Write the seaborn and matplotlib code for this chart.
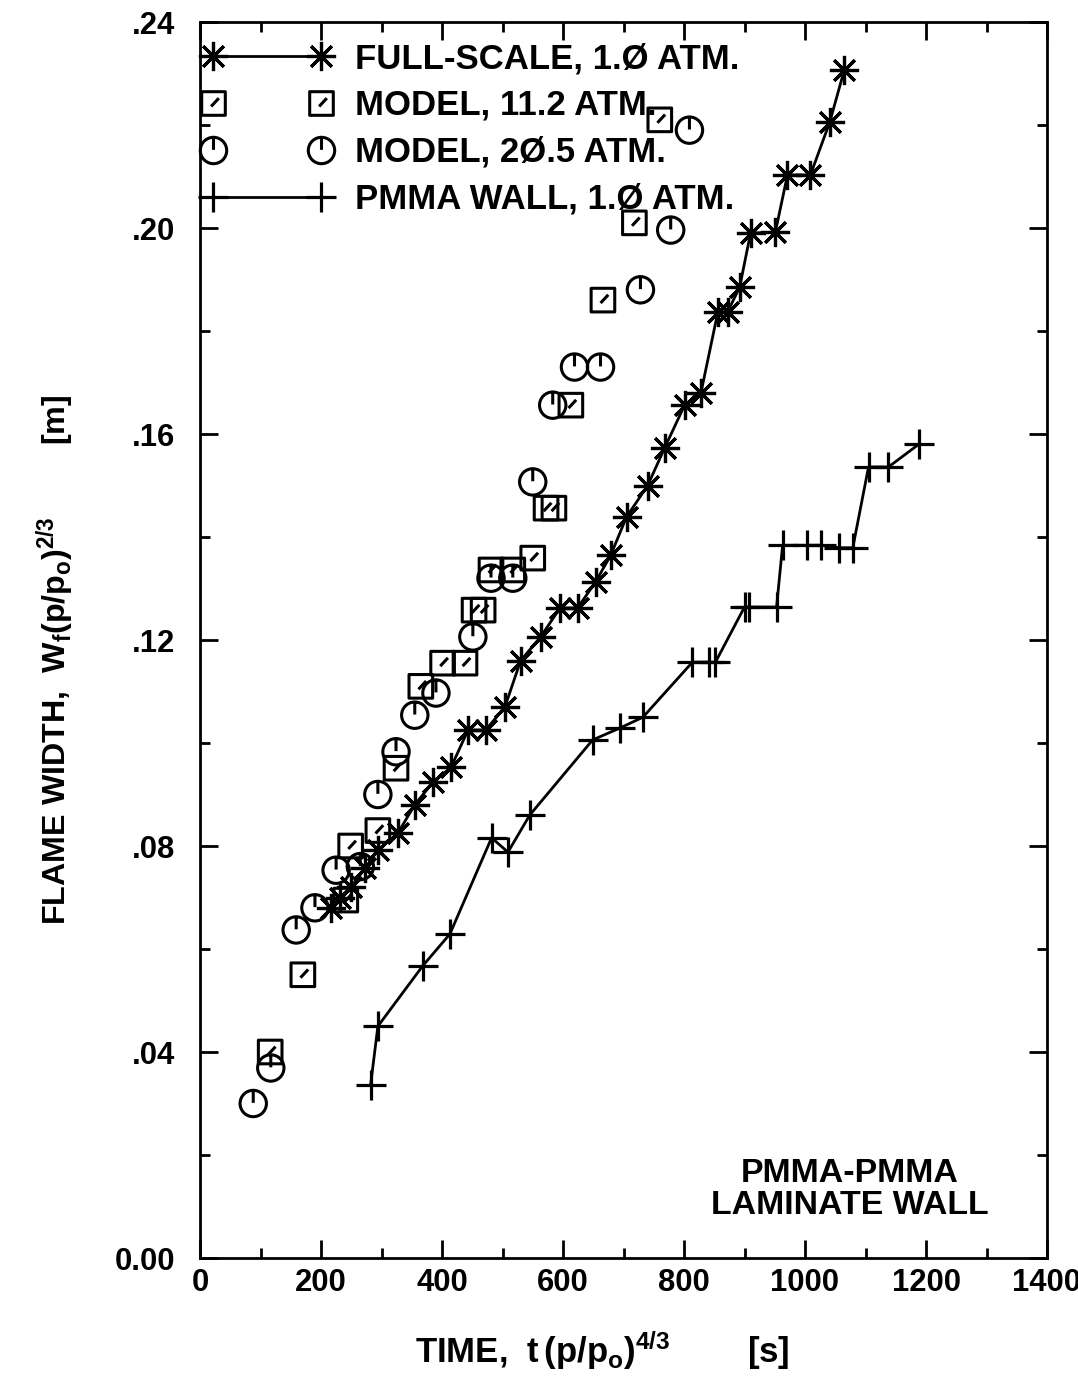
import numpy as np
import pandas as pd
import matplotlib
matplotlib.use("Agg")
import matplotlib.pyplot as plt
import seaborn as sns
from matplotlib import font_manager as fm
from matplotlib.path import Path
from matplotlib.lines import Line2D
from matplotlib.ticker import FixedLocator, MultipleLocator, FuncFormatter

# ---------------- data ----------------
full_t = [216, 231, 249, 273, 294, 327, 355, 385, 415, 443, 472, 504, 530, 563, 595, 624,
          654, 679, 705, 740, 768, 801, 828, 856, 872, 892, 910, 951, 971, 1009, 1041, 1065]
full_w = [.068, .070, .072, .0757, .0792, .0825, .088, .0924, .0953, .1025, .1025, .107, .116,
          .1206, .1262, .1262, .1313, .1365, .1439, .150, .1573, .1656, .168, .1837, .1837,
          .1885, .199, .1992, .2103, .2103, .2206, .2307]

m112_t = [116, 170, 241, 249, 294, 324, 365, 401, 438, 453, 468, 481, 517, 550, 572, 585,
          613, 666, 718, 760]
m112_w = [.040, .055, .0695, .080, .083, .0951, .111, .1155, .1155, .1258, .1258, .1336,
          .1336, .1359, .1456, .1456, .1656, .186, .201, .221]

m205_t = [88, 117, 159, 190, 225, 265, 294, 324, 355, 390, 451, 481, 517, 550, 583, 619,
          662, 728, 778, 809]
m205_w = [.030, .0369, .0637, .068, .0753, .076, .090, .0983, .1054, .1097, .1206, .132,
          .132, .1507, .1656, .173, .173, .188, .1996, .219]

pmma_t = [282, 294, 368, 413, 482, 509, 545, 649, 694, 732, 814, 842, 852, 900, 908, 953,
          963, 1004, 1027, 1057, 1079, 1105, 1138, 1188]
pmma_w = [.0336, .045, .0567, .0629, .0816, .0788, .086, .1006, .1029, .105, .1157, .1157,
          .1157, .1264, .1264, .1264, .1384, .1384, .1384, .1379, .1379, .1536, .1536, .158]

labels = ["FULL-SCALE, 1.Ø ATM.", "MODEL, 11.2 ATM.", "MODEL, 2Ø.5 ATM.",
          "PMMA WALL, 1.Ø ATM."]
x_ticks = [0, 200, 400, 600, 800, 1000, 1200, 1400]
y_ticks = [0.0, 0.04, 0.08, 0.12, 0.16, 0.20, 0.24]
note = "PMMA-PMMA\nLAMINATE WALL"
xlab = r"TIME,  $t\,(p/p_o)^{4/3}$        [s]"
ylab = r"FLAME WIDTH,  $W_f(p/p_o)^{2/3}$        [m]"

# ---------------- style ----------------
sns.set_theme(style="ticks")
avail = {f.name for f in fm.fontManager.ttflist}
FAM = None
for cand in ["Liberation Sans Narrow", "Liberation Sans", "DejaVu Sans"]:
    if cand in avail:
        FAM = cand
        break
plt.rcParams['font.family'] = [FAM, 'DejaVu Sans']
plt.rcParams['font.weight'] = 'bold'
plt.rcParams['axes.labelweight'] = 'bold'
plt.rcParams['text.color'] = 'black'
plt.rcParams['axes.labelcolor'] = 'black'
plt.rcParams['xtick.color'] = 'black'
plt.rcParams['ytick.color'] = 'black'
plt.rcParams['mathtext.fontset'] = 'custom'
plt.rcParams['mathtext.rm'] = FAM + ':bold'
plt.rcParams['mathtext.it'] = FAM + ':bold'
plt.rcParams['mathtext.bf'] = FAM + ':bold'

# custom markers
sq_tick = Path([(-1, -1), (1, -1), (1, 1), (-1, 1), (-1, -1), (-0.2, -0.25), (0.45, 0.45)],
               [Path.MOVETO, Path.LINETO, Path.LINETO, Path.LINETO, Path.CLOSEPOLY,
                Path.MOVETO, Path.LINETO])
circ_tick = Path.make_compound_path(Path.unit_circle(),
                                    Path([(0, 1), (0, 0.05)], [Path.MOVETO, Path.LINETO]))
star = (8, 2, 0)

fig = plt.figure(figsize=(10.78, 13.90), dpi=100)
ax = fig.add_axes([200 / 1078, 1 - 1258 / 1390, 847 / 1078, 1236 / 1390])
renderer = fig.canvas.get_renderer()


def fit(s, target_px, size=20.0, **kw):
    t = fig.text(0, 0, s, fontsize=size, **kw)
    w = t.get_window_extent(renderer).width
    t.remove()
    return size * target_px / w


tick_fs = fit("200", 52)
leg_fs = fit(labels[0], 385)
note_fs = fit("LAMINATE WALL", 278)
xlab_fs = fit(xlab, 375)
ylab_fs = fit(ylab, 530)

df_full = pd.DataFrame({"t": full_t, "w": full_w})
df_pmma = pd.DataFrame({"t": pmma_t, "w": pmma_w})
df_112 = pd.DataFrame({"t": m112_t, "w": m112_w})
df_205 = pd.DataFrame({"t": m205_t, "w": m205_w})

LW = 2.0
sns.lineplot(data=df_full, x="t", y="w", ax=ax, color="black", lw=LW, sort=False,
             estimator=None, marker=star, ms=21, mew=2.3, mec="black")
sns.lineplot(data=df_pmma, x="t", y="w", ax=ax, color="black", lw=LW, sort=False,
             estimator=None, marker="+", ms=22, mew=2.3, mec="black")
sns.scatterplot(data=df_112, x="t", y="w", ax=ax, marker=sq_tick, s=17 ** 2,
                facecolors="none", edgecolors="black", linewidths=2.2, color="black")
sns.scatterplot(data=df_205, x="t", y="w", ax=ax, marker=circ_tick, s=19 ** 2,
                facecolors="none", edgecolors="black", linewidths=2.2, color="black")

ax.set_xlim(0, 1400)
ax.set_ylim(0, 0.24)

ax.xaxis.set_major_locator(FixedLocator(x_ticks))
ax.xaxis.set_minor_locator(MultipleLocator(100))
ax.yaxis.set_major_locator(FixedLocator(y_ticks))
ax.yaxis.set_minor_locator(MultipleLocator(0.02))
ax.yaxis.set_major_formatter(FuncFormatter(lambda v, p: "0.00" if abs(v) < 1e-9 else (".%02d" % round(v * 100))))
ax.xaxis.set_major_formatter(FuncFormatter(lambda v, p: "%d" % v))

ax.tick_params(which="both", direction="in", top=True, right=True, width=2, color="black",
               labelsize=tick_fs, labelcolor="black")
ax.tick_params(which="major", length=13)
ax.tick_params(axis="x", which="major", pad=7)
ax.tick_params(axis="y", which="major", pad=18)
ax.tick_params(which="minor", length=7)
for s in ax.spines.values():
    s.set_linewidth(2)
    s.set_color("black")

ax.set_xlabel(xlab, fontsize=xlab_fs)
ax.set_ylabel(ylab, fontsize=ylab_fs)
ax.xaxis.set_label_coords(0.475, -0.058)
ax.yaxis.set_label_coords(-0.145, 0.484)

ax.text(0.767, 0.03, note, transform=ax.transAxes, ha="center",
        va="bottom", fontsize=note_fs, linespacing=1.05, multialignment="center")

fs_px = leg_fs * 100 / 72
handles = [
    Line2D([], [], color="black", lw=LW, marker=star, ms=21, mew=2.3),
    Line2D([], [], ls="none", marker=sq_tick, ms=17, mfc="none", mec="black", mew=2.2),
    Line2D([], [], ls="none", marker=circ_tick, ms=19, mfc="none", mec="black", mew=2.2),
    Line2D([], [], color="black", lw=LW, marker="+", ms=22, mew=2.3),
]
ax.legend(handles, labels, loc="upper left", bbox_to_anchor=(0.0, 1 - 17 / 1236),
          numpoints=2, frameon=False, fontsize=leg_fs,
          handlelength=128 / fs_px, handletextpad=24 / fs_px,
          labelspacing=max(0.05, (54 - 1.15 * fs_px) / fs_px),
          borderaxespad=0.0, borderpad=3 / fs_px)

fig.savefig("out.png", dpi=100)
